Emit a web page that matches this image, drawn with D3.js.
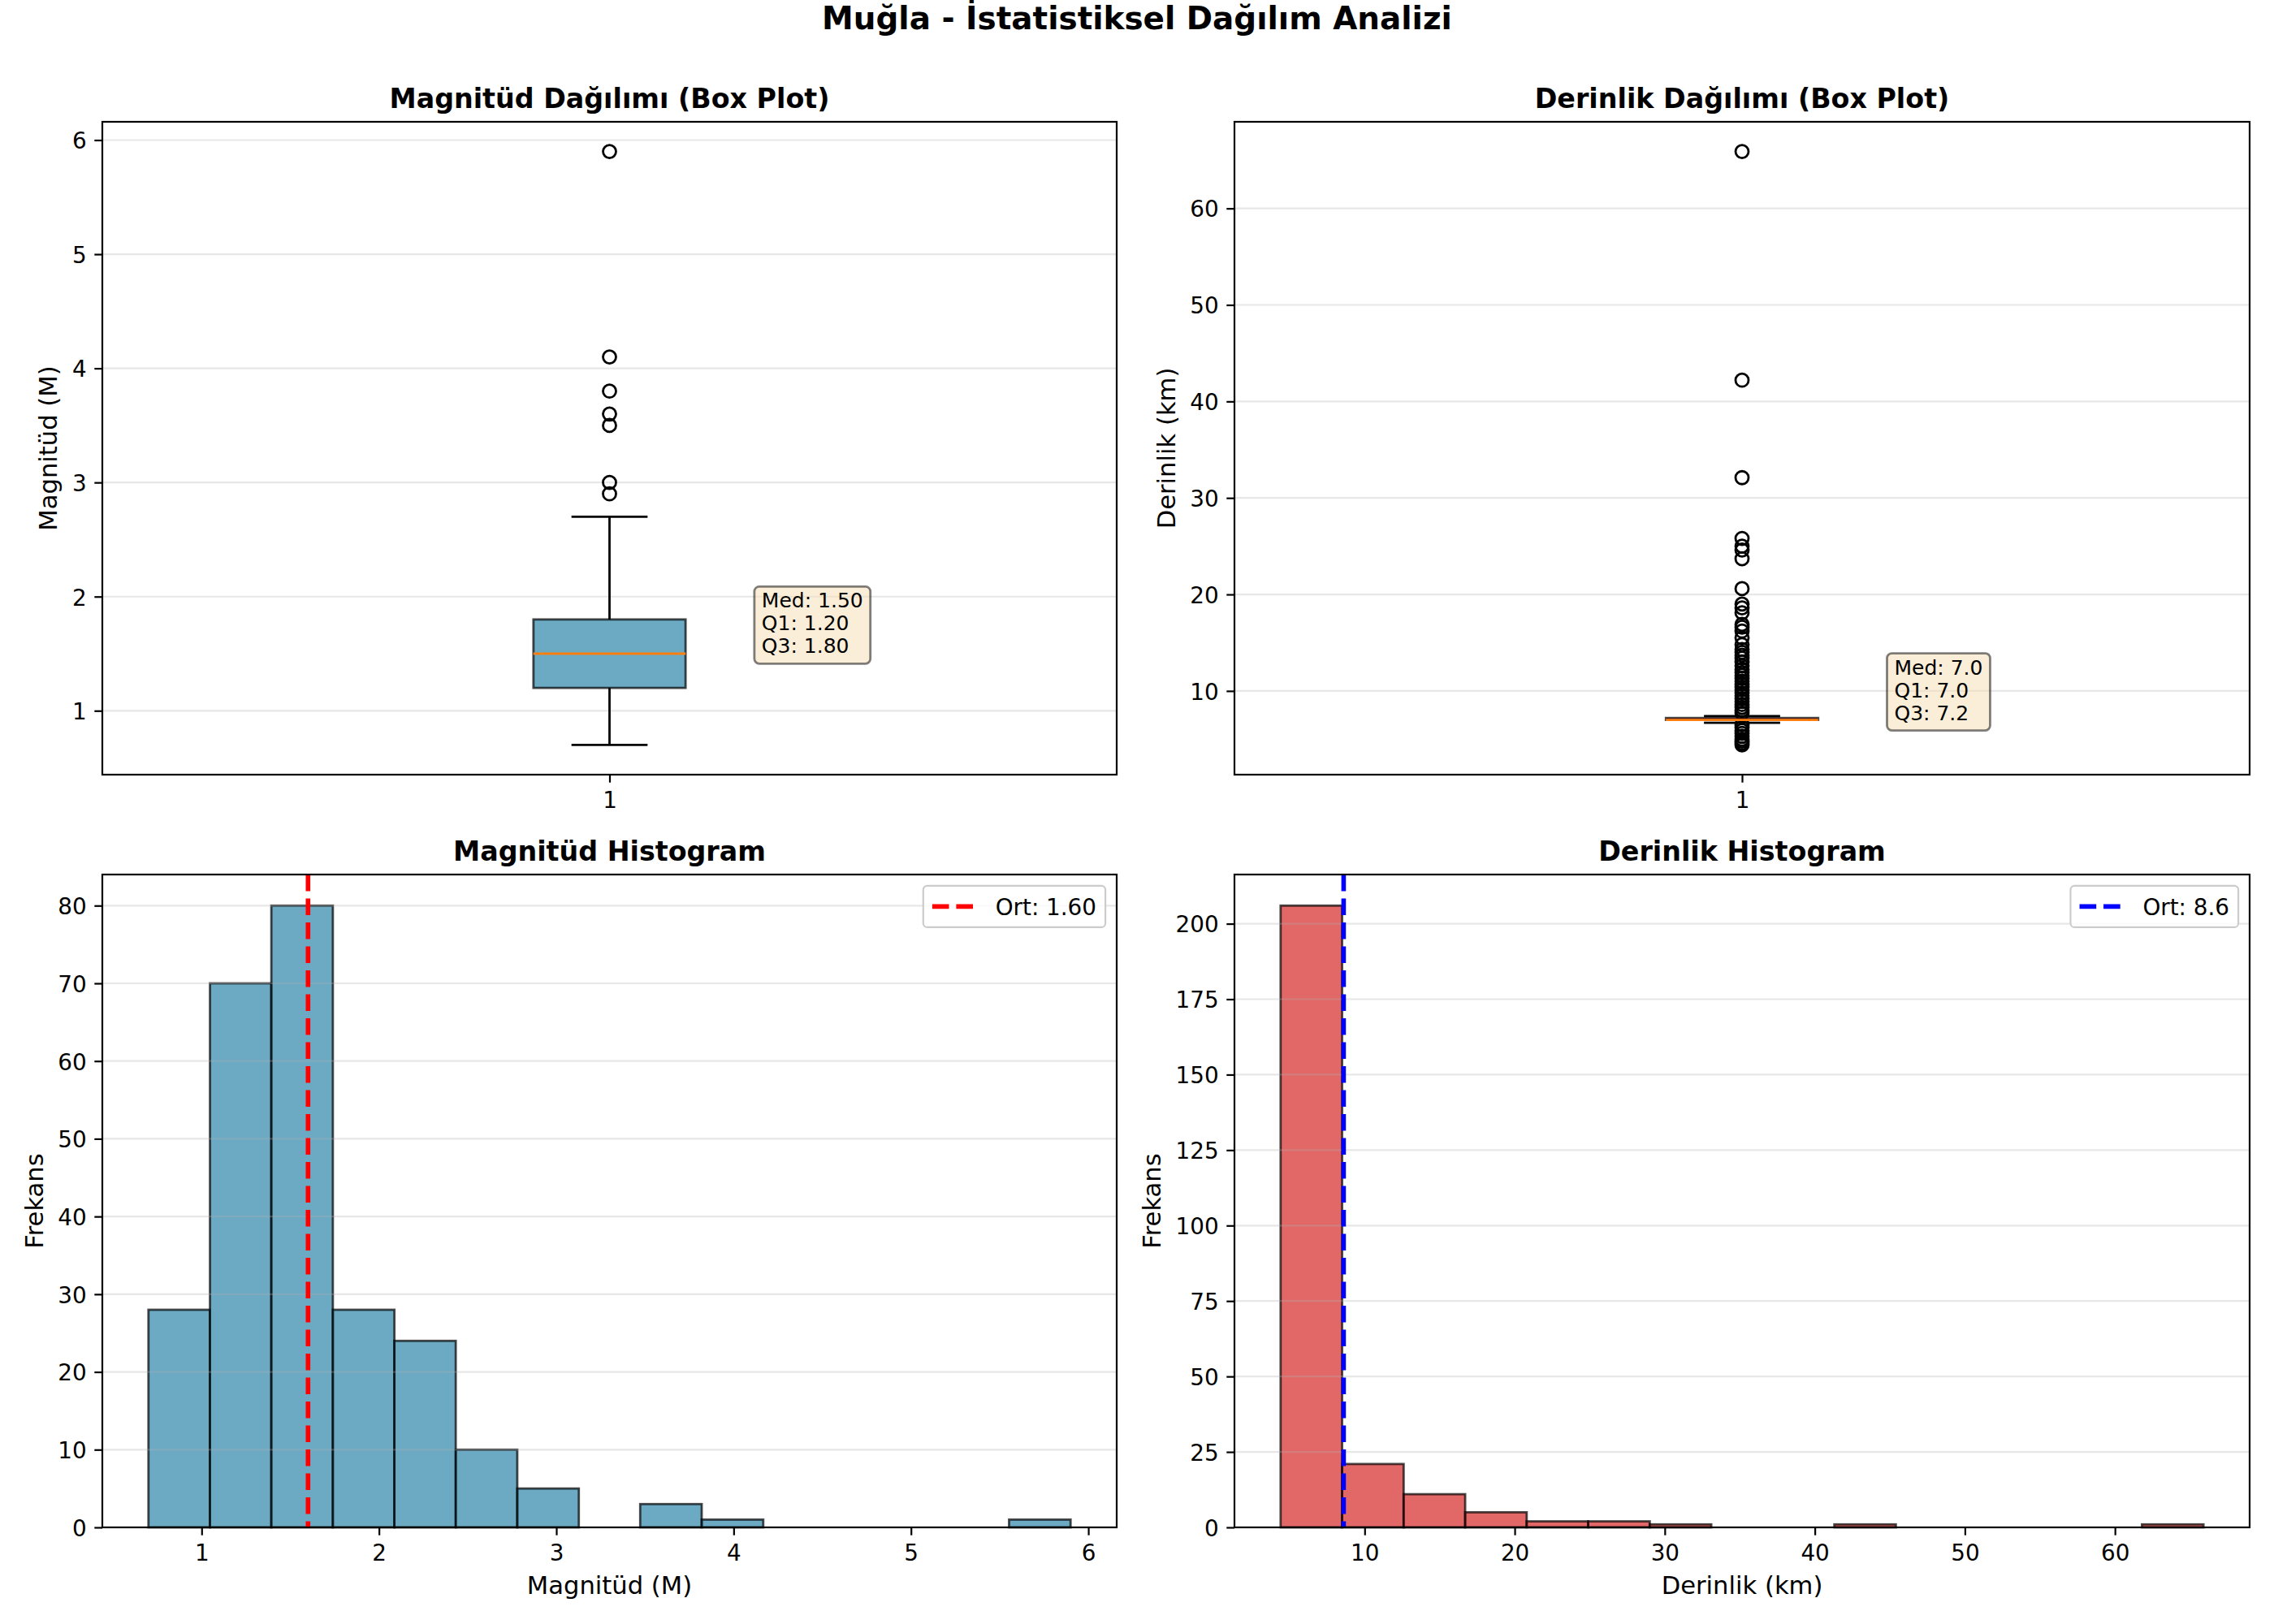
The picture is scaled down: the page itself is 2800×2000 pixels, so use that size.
<!DOCTYPE html>
<html>
<head>
<meta charset="utf-8">
<script src="https://cdn.jsdelivr.net/npm/d3@7"></script>
<style>
  body { margin: 0; background: #fff; }
  svg { display: block; }
  text { font-family: "DejaVu Sans", sans-serif; }
</style>
</head>
<body>
<div id="chart"></div>
<script>
// box plot stats: lower whisker, Q1, median, Q3, upper whisker
const magStats = [0.7, 1.2, 1.5, 1.8, 2.7];
const magOutliers = [2.9, 3.0, 3.5, 3.6, 3.8, 4.1, 5.9];
const depthStats = [6.7, 7.0, 7.0, 7.2, 7.4];
const depthOutliers = [4.4, 4.6, 4.8, 5.0, 5.3, 5.6, 5.9, 6.2, 6.5,
    7.7, 8.0, 8.3, 8.6, 8.9, 9.2, 9.5, 9.8, 10.1, 10.4, 10.7, 11.0, 11.3, 11.6, 11.9,
    12.2, 12.6, 13.0, 13.4, 13.7, 14.0, 14.3, 14.8, 15.5, 16.2, 16.6, 16.9, 18.1, 18.6,
    19.0, 20.6, 23.7, 24.6, 25.0, 25.8, 32.1, 42.2, 65.9];

// histograms
const magBinEdges = [0.7, 1.047, 1.393, 1.74, 2.087, 2.433, 2.78, 3.127, 3.473, 3.82, 4.167, 4.513, 4.86, 5.207, 5.553, 5.9];
const magCounts = [28, 70, 80, 28, 24, 10, 5, 0, 3, 1, 0, 0, 0, 0, 1];
const depthBinEdges = [4.4, 8.5, 12.6, 16.7, 20.8, 24.9, 29.0, 33.1, 37.2, 41.3, 45.4, 49.5, 53.6, 57.7, 61.8, 65.9];
const depthCounts = [206, 21, 11, 5, 2, 2, 1, 0, 0, 1, 0, 0, 0, 0, 1];
const magMean = 1.60;
const depthMean = 8.6;

// ticks
const magBoxTicks = [1, 2, 3, 4, 5, 6];
const depthBoxTicks = [10, 20, 30, 40, 50, 60];
const magHistXTicks = [1, 2, 3, 4, 5, 6];
const magHistYTicks = [0, 10, 20, 30, 40, 50, 60, 70, 80];
const depthHistXTicks = [10, 20, 30, 40, 50, 60];
const depthHistYTicks = [0, 25, 50, 75, 100, 125, 150, 175, 200];

const W = 2800, H = 2000;
const FS_TICK = 27.8, FS_LABEL = 30.6, FS_TITLE = 33.3, FS_SUP = 38.9, FS_BOX = 25, FS_LEG = 27.8;
const cols = [[126, 1375], [1520, 2770]];
const rows = [[150, 954], [1077, 1881]];

const svg = d3.select('#chart').append('svg')
    .attr('width', W)
    .attr('height', H);

svg.append('text')
    .attr('x', W / 2)
    .attr('y', 36)
    .attr('text-anchor', 'middle')
    .style('font-size', FS_SUP + 'px')
    .style('font-weight', 'bold')
    .text('Muğla - İstatistiksel Dağılım Analizi');

function padDomain(lo, hi) {
    const m = (hi - lo) * 0.05;
    return [lo - m, hi + m];
}

function makePanel(col, row, xDomain, yDomain, o) {
    const [x0, x1] = cols[col], [y0, y1] = rows[row];
    const x = d3.scaleLinear().domain(xDomain).range([x0, x1]);
    const y = d3.scaleLinear().domain(yDomain).range([y1, y0]);
    const g = svg.append('g');
    const p = {x, y, x0, x1, y0, y1,
        below: g.append('g'), grid: g.append('g'), above: g.append('g'), axes: g.append('g')};

    // horizontal grid only
    p.grid.selectAll('line').data(o.yTicks).join('line')
        .attr('x1', x0).attr('x2', x1)
        .attr('y1', d => y(d)).attr('y2', d => y(d))
        .attr('stroke', '#b0b0b0')
        .attr('stroke-opacity', 0.3)
        .attr('stroke-width', 2.2);

    const xAxis = p.axes.append('g')
        .attr('transform', `translate(0,${y1})`)
        .call(d3.axisBottom(x).tickValues(o.xTicks).tickFormat(o.xFormat || d3.format('d'))
            .tickSize(9.7).tickPadding(9.7));
    const yAxis = p.axes.append('g')
        .attr('transform', `translate(${x0},0)`)
        .call(d3.axisLeft(y).tickValues(o.yTicks).tickFormat(d3.format('d'))
            .tickSize(9.7).tickPadding(9.7));
    [xAxis, yAxis].forEach(a => {
        a.attr('font-size', FS_TICK).attr('font-family', '"DejaVu Sans", sans-serif');
        a.select('.domain').remove();
        a.selectAll('.tick line').attr('stroke', '#000').attr('stroke-width', 2.2);
        a.selectAll('.tick text').attr('fill', '#000');
    });
    yAxis.selectAll('.tick text').attr('dy', '0.37em');
    xAxis.selectAll('.tick text').attr('dy', '0.76em');

    p.axes.append('rect')
        .attr('x', x0).attr('y', y0)
        .attr('width', x1 - x0).attr('height', y1 - y0)
        .attr('fill', 'none')
        .attr('stroke', '#000')
        .attr('stroke-width', 2.2);

    p.axes.append('text')
        .attr('x', (x0 + x1) / 2)
        .attr('y', y0 - 16.7)
        .attr('text-anchor', 'middle')
        .style('font-size', FS_TITLE + 'px')
        .style('font-weight', 'bold')
        .text(o.title);

    if (o.yLabel) {
        let left = x0;
        yAxis.selectAll('.tick text').each(function () {
            const b = this.getBBox();
            left = Math.min(left, x0 + b.x);
        });
        p.axes.append('text')
            .attr('transform', `translate(${left - 11.1 - 0.24 * FS_LABEL},${(y0 + y1) / 2}) rotate(-90)`)
            .attr('text-anchor', 'middle')
            .style('font-size', FS_LABEL + 'px')
            .text(o.yLabel);
    }
    if (o.xLabel) {
        p.axes.append('text')
            .attr('x', (x0 + x1) / 2)
            .attr('y', y1 + 82)
            .attr('text-anchor', 'middle')
            .style('font-size', FS_LABEL + 'px')
            .text(o.xLabel);
    }
    return p;
}

function drawBox(p, stats, outliers, color, digits, labelY) {
    const [lo, q1, med, q3, hi] = stats;
    const cx = p.x(1);
    const bx0 = p.x(1 - 0.075), bx1 = p.x(1 + 0.075);
    const cx0 = p.x(1 - 0.0375), cx1 = p.x(1 + 0.0375);

    p.above.append('g').selectAll('circle').data(outliers).join('circle')
        .attr('cx', cx)
        .attr('cy', d => p.y(d))
        .attr('r', 8)
        .attr('fill', 'none')
        .attr('stroke', '#000')
        .attr('stroke-width', 2.8);

    const wh = p.above.append('g').attr('stroke', '#000').attr('stroke-width', 2.8);
    [[q1, lo], [q3, hi]].forEach(([a, b]) => {
        wh.append('line').attr('x1', cx).attr('x2', cx).attr('y1', p.y(a)).attr('y2', p.y(b));
        wh.append('line').attr('x1', cx0).attr('x2', cx1).attr('y1', p.y(b)).attr('y2', p.y(b));
    });

    p.above.append('rect')
        .attr('x', bx0).attr('width', bx1 - bx0)
        .attr('y', p.y(q3)).attr('height', p.y(q1) - p.y(q3))
        .attr('fill', color).attr('fill-opacity', 0.7)
        .attr('stroke', '#000').attr('stroke-opacity', 0.7)
        .attr('stroke-width', 2.8);

    p.above.append('line')
        .attr('x1', bx0).attr('x2', bx1)
        .attr('y1', p.y(med)).attr('y2', p.y(med))
        .attr('stroke', '#ff7f0e')
        .attr('stroke-width', 2.8);

    // stats annotation
    const lines = ['Med: ' + med.toFixed(digits), 'Q1: ' + q1.toFixed(digits), 'Q3: ' + q3.toFixed(digits)];
    const tx = p.x(1.15), cy = p.y(labelY);
    const lineH = 28;
    const blockH = 0.76 * FS_BOX + 2 * lineH + 0.24 * FS_BOX;
    const firstBase = cy - blockH / 2 + 0.76 * FS_BOX;
    const ann = p.above.append('g');
    const bg = ann.append('rect');
    const txt = ann.append('text').style('font-size', FS_BOX + 'px');
    lines.forEach((l, i) => {
        txt.append('tspan').attr('x', tx).attr('y', firstBase + i * lineH).text(l);
    });
    let w = 0;
    txt.selectAll('tspan').each(function () { w = Math.max(w, this.getComputedTextLength()); });
    bg.attr('x', tx - 9).attr('y', cy - blockH / 2 - 7)
        .attr('width', w + 18).attr('height', blockH + 14)
        .attr('rx', 6)
        .attr('fill', '#f5deb3').attr('fill-opacity', 0.5)
        .attr('stroke', '#000').attr('stroke-opacity', 0.5)
        .attr('stroke-width', 2.8);
}

function drawHist(p, edges, counts, color, mean, meanColor, label) {
    p.below.selectAll('rect').data(counts).join('rect')
        .attr('x', (d, i) => p.x(edges[i]))
        .attr('width', (d, i) => p.x(edges[i + 1]) - p.x(edges[i]))
        .attr('y', d => p.y(d))
        .attr('height', d => p.y(0) - p.y(d))
        .attr('fill', color).attr('fill-opacity', 0.7)
        .attr('stroke', '#000').attr('stroke-opacity', 0.7)
        .attr('stroke-width', 2.8);

    p.above.append('line')
        .attr('x1', p.x(mean)).attr('x2', p.x(mean))
        .attr('y1', p.y0).attr('y2', p.y1)
        .attr('stroke', meanColor)
        .attr('stroke-width', 5.6)
        .attr('stroke-dasharray', '20.6,8.9');

    // legend, upper right
    const leg = p.axes.append('g');
    const frame = leg.append('rect');
    const t = leg.append('text').style('font-size', FS_LEG + 'px').text(label);
    const tw = t.node().getComputedTextLength();
    const lw = 11.1 + 55.6 + 22.2 + tw + 11.1, lh = 51;
    const lx = p.x1 - 13.9 - lw, ly = p.y0 + 13.9, lc = ly + lh / 2;
    frame.attr('x', lx).attr('y', ly).attr('width', lw).attr('height', lh)
        .attr('rx', 5)
        .attr('fill', '#fff').attr('fill-opacity', 0.8)
        .attr('stroke', '#cccccc').attr('stroke-width', 2.2);
    leg.append('line')
        .attr('x1', lx + 11.1).attr('x2', lx + 11.1 + 55.6)
        .attr('y1', lc).attr('y2', lc)
        .attr('stroke', meanColor).attr('stroke-width', 5.6)
        .attr('stroke-dasharray', '20.6,8.9');
    t.attr('x', lx + 11.1 + 55.6 + 22.2).attr('y', lc + 0.37 * FS_LEG);
}

// Magnitude box plot
const p1 = makePanel(0, 0, [0.5, 1.5],
    padDomain(d3.min(magOutliers.concat(magStats)), d3.max(magOutliers.concat(magStats))),
    {xTicks: [1], yTicks: magBoxTicks, title: 'Magnitüd Dağılımı (Box Plot)', yLabel: 'Magnitüd (M)'});
drawBox(p1, magStats, magOutliers, '#2E86AB', 2, 1.75);

// Depth box plot
const p2 = makePanel(1, 0, [0.5, 1.5],
    padDomain(d3.min(depthOutliers.concat(depthStats)), d3.max(depthOutliers.concat(depthStats))),
    {xTicks: [1], yTicks: depthBoxTicks, title: 'Derinlik Dağılımı (Box Plot)', yLabel: 'Derinlik (km)'});
drawBox(p2, depthStats, depthOutliers, '#D62828', 1, 9.9);

// Magnitude histogram
const p3 = makePanel(0, 1, padDomain(magBinEdges[0], magBinEdges[magBinEdges.length - 1]),
    [0, d3.max(magCounts) * 1.05],
    {xTicks: magHistXTicks, yTicks: magHistYTicks, title: 'Magnitüd Histogram',
        yLabel: 'Frekans', xLabel: 'Magnitüd (M)'});
drawHist(p3, magBinEdges, magCounts, '#2E86AB', magMean, '#ff0000', 'Ort: ' + magMean.toFixed(2));

// Depth histogram
const p4 = makePanel(1, 1, padDomain(depthBinEdges[0], depthBinEdges[depthBinEdges.length - 1]),
    [0, d3.max(depthCounts) * 1.05],
    {xTicks: depthHistXTicks, yTicks: depthHistYTicks, title: 'Derinlik Histogram',
        yLabel: 'Frekans', xLabel: 'Derinlik (km)'});
drawHist(p4, depthBinEdges, depthCounts, '#D62828', depthMean, '#0000ff', 'Ort: ' + depthMean.toFixed(1));
</script>
</body>
</html>
